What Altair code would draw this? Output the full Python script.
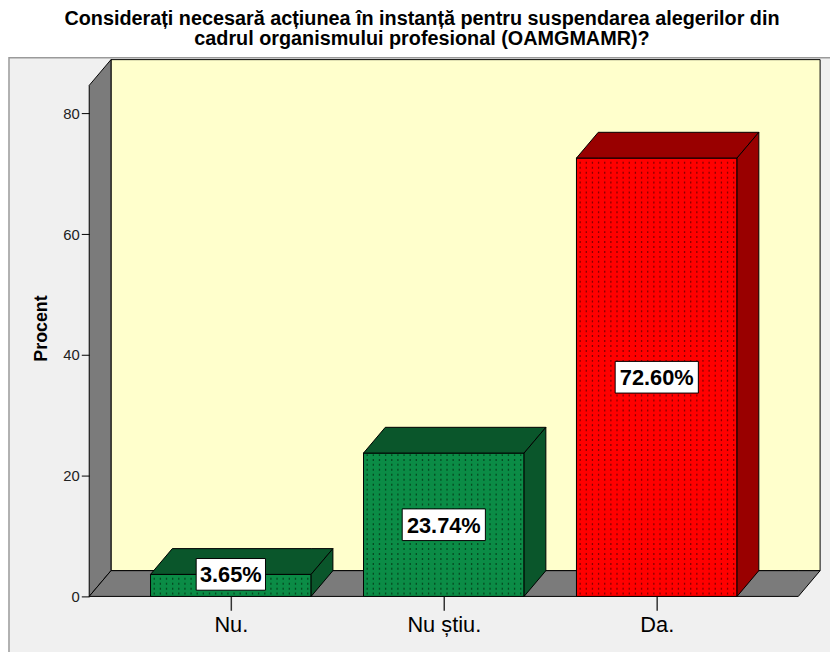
import json
import altair as alt
import pandas as pd

# ---------------- data ----------------
categories = ["Nu.", "Nu știu.", "Da."]
percents = [3.65, 23.74, 72.60]
labels = ["3.65%", "23.74%", "72.60%"]
front_colors = ["#0b8c46", "#0b8c46", "#ff0000"]
shade_colors = ["#0a562b", "#0a562b", "#990000"]
dot_colors = ["#064a22", "#064a22", "#8a0000"]
y_ticks = [0, 20, 40, 60, 80]
title_lines = ["Considerați necesară acțiunea în instanță pentru suspendarea alegerilor din",
               "cadrul organismului profesional (OAMGMAMR)?"]
y_title = "Procent"

# ---------------- geometry (style) ----------------
W, H = 738, 542
PX_PER_CAT = 215.0
Y_TOP = 88.9
PX_PER_Y = H / Y_TOP
X_MIN, X_MAX = -0.665, 2.767
HALF_W = 0.377
DX = 22 / PX_PER_CAT
DY = 26 / PX_PER_Y
WALL_FRONT_TOP = Y_TOP - DY

xs = alt.Scale(domain=[X_MIN, X_MAX], nice=False, zero=False)
ys = alt.Scale(domain=[0, Y_TOP], nice=False, zero=False)

label_expr = json.dumps(categories) + "[datum.value]"
x_axis = alt.Axis(
    values=list(range(len(categories))), labelExpr=label_expr, title=None, zindex=1,
    domain=False, grid=False, tickSize=14, tickColor="#333333", tickWidth=1.5,
    labelFontSize=22, labelFont="Liberation Sans", labelColor="black", labelPadding=4)
y_axis = alt.Axis(
    values=y_ticks, title=y_title, titleFontSize=18, titleFont="Liberation Sans", zindex=1,
    titleFontWeight="bold", titleColor="black", titlePadding=12,
    domain=False, grid=False, tickSize=8, tickColor="black",
    labelFontSize=15, labelFont="Liberation Sans", labelColor="#222222", labelPadding=2)


def X(f="x:Q"):
    return alt.X(f, scale=xs, axis=x_axis)


def Y(f="y:Q"):
    return alt.Y(f, scale=ys, axis=y_axis)


# frame background (decoration)
frame = alt.Chart(pd.DataFrame({"a": [0]})).mark_rect(
    fill="#f0f0f0", stroke="#9a9a9a", strokeWidth=1.5
).encode(x=alt.value(-81), x2=alt.value(760), y=alt.value(-2), y2=alt.value(620))

# back wall
back = alt.Chart(pd.DataFrame({"x": [X_MIN + DX], "x2": [X_MAX], "y": [DY], "y2": [Y_TOP]})).mark_rect(
    fill="#ffffcc", stroke="black", strokeWidth=1
).encode(x=X(), x2="x2:Q", y=Y(), y2="y2:Q")

# left wall
lw = pd.DataFrame({"x": [X_MIN, X_MIN + DX], "y": [0, DY], "y2": [WALL_FRONT_TOP, Y_TOP]})
left_wall = alt.Chart(lw).mark_area(fill="#7b7b7b", stroke="black", strokeWidth=1).encode(
    x=X(), y=Y(), y2="y2:Q")

# floor
x_front_right = X_MAX - DX
fl = pd.DataFrame({"x": [X_MIN, X_MIN + DX, x_front_right, X_MAX],
                   "y": [0, 0, 0, DY], "y2": [0, DY, DY, DY]})
floor = alt.Chart(fl).mark_area(fill="#7b7b7b", stroke="black", strokeWidth=1).encode(
    x=X(), y=Y(), y2="y2:Q")

# bars
front_rows, top_rows, side_rows, dot_rows, lab_rows = [], [], [], [], []
for i, (c, v) in enumerate(zip(categories, percents)):
    x0, x1 = i - HALF_W, i + HALF_W
    front_rows.append({"x": x0, "x2": x1, "y": 0, "y2": v, "fill": front_colors[i]})
    for (xx, a, b) in [(x0, v, v), (x0 + DX, v, v + DY), (x1, v, v + DY), (x1 + DX, v + DY, v + DY)]:
        top_rows.append({"bar": c, "x": xx, "y": a, "y2": b, "fill": shade_colors[i]})
    for (xx, a, b) in [(x1, 0, v), (x1 + DX, DY, v + DY)]:
        side_rows.append({"bar": c, "x": xx, "y": a, "y2": b, "fill": shade_colors[i]})
    step = 6.2 / PX_PER_CAT
    k = 0
    while x0 + (k + 0.6) * step < x1 - 0.5 * step:
        dot_rows.append({"x": x0 + (k + 0.6) * step, "y": 0.3, "y2": v - 0.2, "col": dot_colors[i]})
        k += 1
    w = 14 * len(labels[i])
    r = 32 / w
    path = f"M-1,-{r:.4f}L1,-{r:.4f}L1,{r:.4f}L-1,{r:.4f}Z"
    ly = v / 2 if v / 2 > 4 else v
    lab_rows.append({"x": i, "y": ly, "text": labels[i], "path": path, "size": w * w})

fronts = alt.Chart(pd.DataFrame(front_rows)).mark_rect(stroke="black", strokeWidth=1).encode(
    x=X(), x2="x2:Q", y=Y(), y2="y2:Q", fill=alt.Fill("fill:N", scale=None))

dots = alt.Chart(pd.DataFrame(dot_rows)).mark_rule(strokeDash=[2, 3], strokeWidth=1.3).encode(
    x=X(), y=Y(), y2="y2:Q", color=alt.Color("col:N", scale=None))

tops = alt.Chart(pd.DataFrame(top_rows)).mark_area(stroke="black", strokeWidth=1).encode(
    x=X(), y=Y(), y2="y2:Q", detail="bar:N", fill=alt.Fill("fill:N", scale=None))

sides = alt.Chart(pd.DataFrame(side_rows)).mark_area(stroke="black", strokeWidth=1).encode(
    x=X(), y=Y(), y2="y2:Q", detail="bar:N", fill=alt.Fill("fill:N", scale=None))

lab_df = pd.DataFrame(lab_rows)
boxes = alt.Chart(lab_df).mark_point(filled=True, fill="white", stroke="black",
                                     strokeWidth=1, opacity=1).encode(
    x=X(), y=Y(), shape=alt.Shape("path:N", scale=None), size=alt.Size("size:Q", scale=None))

texts = alt.Chart(lab_df).mark_text(font="Liberation Sans", fontSize=22, fontWeight="bold",
                                    color="black", dy=1).encode(
    x=X(), y=Y(), text="text:N")

chart = alt.layer(frame, back, left_wall, floor, fronts, dots, tops, sides, boxes, texts).properties(
    width=W, height=H,
    autosize=alt.AutoSizeParams(type="none"),
    padding={"left": 82, "top": 49, "right": 10, "bottom": 53},
    background="white",
    title=alt.TitleParams(title_lines, anchor="middle", fontSize=20, fontWeight="bold",
                          font="Liberation Sans", color="black", dx=-33, offset=8,
                          lineHeight=20)
).configure_view(stroke=None)

chart.save("out.html", embed_options={"renderer": "svg", "actions": False})
